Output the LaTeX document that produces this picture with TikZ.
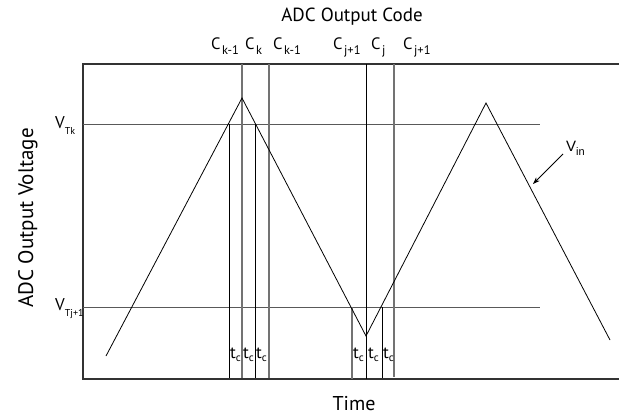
\documentclass[tikz,border=0pt]{standalone}
\usepackage{fontspec}
\setmainfont{PT Sans}
\newfontfamily\arialf{Liberation Sans}
\usetikzlibrary{arrows.meta}
\newcommand{\lowsub}[3]{\raisebox{-#2pt}{\fontsize{#1}{#1}\selectfont #3}}
\begin{document}
\begin{tikzpicture}[x=1pt,y=-1pt,
  axisline/.style={draw=black!80, line width=1.1pt},
  levelline/.style={draw=black!65, line width=1pt},
  codeline/.style={draw=black, line width=0.9pt},
  codegray/.style={draw=black!55, line width=1.1pt},
  wave/.style={draw=black, line width=0.8pt},
  lbl/.style={inner sep=0pt, anchor=base west, font=\fontsize{16.5}{16.5}\selectfont},
  vlbl/.style={inner sep=0pt, anchor=base west, font=\fontsize{17}{17}\selectfont},
  tlbl/.style={inner sep=0pt, anchor=base west, font=\fontsize{17}{17}\selectfont},
  title/.style={inner sep=0pt, anchor=base}]
\useasboundingbox (0,0) rectangle (619,418);
% axes
\coordinate (tl) at (83,64);
\coordinate (tr) at (619,64);
\coordinate (bl) at (83,379);
\coordinate (br) at (619,379);
\draw[axisline] (tr) -- (tl) -- (bl) -- (br);
% levels
\coordinate (vk0) at (83,124);
\coordinate (vk1) at (540,124);
\coordinate (vj0) at (83,307);
\coordinate (vj1) at (540,307);
\draw[levelline] (vk0) -- (vk1);
\draw[levelline] (vj0) -- (vj1);
% code lines group k
\coordinate (a1) at (229,124); \coordinate (a2) at (229,378);
\coordinate (b1) at (242,64);  \coordinate (b2) at (242,378);
\coordinate (c1) at (255,124); \coordinate (c2) at (255,378);
\coordinate (d1) at (269,64);  \coordinate (d2) at (269,378);
\draw[codeline] (a1) -- (a2);
\draw[codegray] (b1) -- (b2);
\draw[codeline] (c1) -- (c2);
\draw[codegray] (d1) -- (d2);
% code lines group j
\coordinate (e1) at (352,307); \coordinate (e2) at (352,379);
\coordinate (f1) at (366,64);  \coordinate (f2) at (366,379);
\coordinate (g1) at (382,307); \coordinate (g2) at (382,378);
\coordinate (h1) at (394,64);  \coordinate (h2) at (394,377);
\draw[codegray] (e1) -- (e2);
\draw[codeline] (f1) -- (f2);
\draw[codeline] (g1) -- (g2);
\draw[codegray] (h1) -- (h2);
% input wave
\coordinate (w0) at (106,356);
\coordinate (w1) at (242,98);
\coordinate (w2) at (366,336);
\coordinate (w3) at (486,103);
\coordinate (w4) at (610,340);
\draw[wave, line join=miter] (w0) -- (w1) -- (w2) -- (w3) -- (w4);
% Vin arrow
\node[inner sep=0pt, anchor=base west, font=\arialf\fontsize{15}{15}\selectfont] (vin) at (566,151) {V\lowsub{11}{4}{in}};
\coordinate (vs) at (563,154);
\coordinate (ve) at (533,184);
\draw[line width=0.8pt, -{Stealth[length=7pt,width=5pt]}] (vs) -- (ve);
% titles
\node[title, font=\fontsize{19}{19}\selectfont] (ttop) at (352,21) {ADC Output Code};
\node[title, font=\fontsize{20}{20}\selectfont] (tbot) at (354,410) {Time};
\node[title, rotate=90, font=\fontsize{21}{21}\selectfont] (tleft) at (33,218) {ADC Output Voltage};
% level labels
\node[vlbl] (lvk) at (55,128) {V\lowsub{10}{6}{Tk}};
\node[vlbl] (lvj) at (55,310) {V\lowsub{10}{6}{Tj+1}};
% code labels
\node[lbl] (ck1) at (211,49) {C\hspace{1.5pt}\lowsub{12.5}{5}{k-1}};
\node[lbl] (ck)  at (245,49) {C\hspace{1.5pt}\lowsub{12.5}{5}{k}};
\node[lbl] (ck2) at (273,49) {C\hspace{1.5pt}\lowsub{12.5}{5}{k-1}};
\node[lbl] (cj1) at (333,49) {C\hspace{1.5pt}\lowsub{12.5}{5}{j+1}};
\node[lbl] (cj)  at (371,49) {C\hspace{1.5pt}\lowsub{12.5}{5}{j}};
\node[lbl] (cj2) at (403,49) {C\hspace{1.5pt}\lowsub{12.5}{5}{j+1}};
% tc labels
\node[tlbl] (t1) at (230,358) {t\lowsub{11}{3.5}{c}};
\node[tlbl] (t2) at (243,358) {t\lowsub{11}{3.5}{c}};
\node[tlbl] (t3) at (256,358) {t\lowsub{11}{3.5}{c}};
\node[tlbl] (t4) at (353,358) {t\lowsub{11}{3.5}{c}};
\node[tlbl] (t5) at (368,358) {t\lowsub{11}{3.5}{c}};
\node[tlbl] (t6) at (383,358) {t\lowsub{11}{3.5}{c}};
\end{tikzpicture}
\end{document}
